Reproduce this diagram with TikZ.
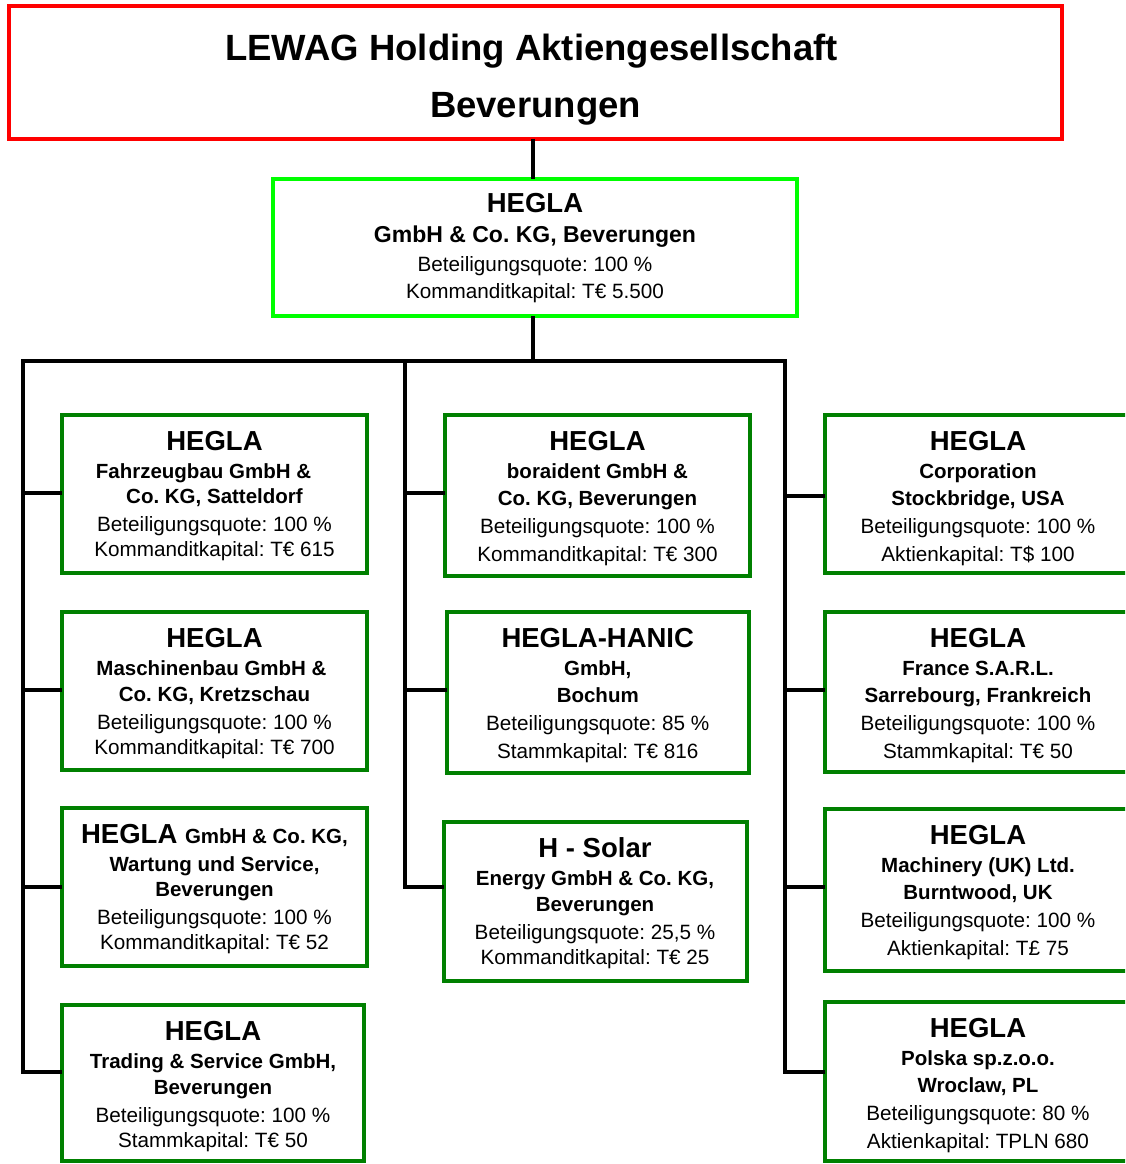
\documentclass[tikz,border=0pt]{standalone}
\usepackage{fontspec}
\setmainfont{Liberation Sans}
\definecolor{dkgreen}{RGB}{0,128,0}
\definecolor{ltgreen}{RGB}{0,255,0}
\newcommand\cbox[5]{\node[subbox, minimum width={#4-#2}, minimum height={#5-#3}] (#1) at ({(#2+#4)/2},{(#3+#5)/2}) {};}
\newcommand\clines[6]{%
  \node[hd] (#1-a) at ([yshift=-\oA]#1.north) {#2};
  \node[sb] (#1-b) at ([yshift=-\oB]#1.north) {#3};
  \node[sb] (#1-c) at ([yshift=-\oC]#1.north) {#4};
  \node[rg] (#1-d) at ([yshift=-\oD]#1.north) {#5};
  \node[rg] (#1-e) at ([yshift=-\oE]#1.north) {#6};}
\newcommand\settight{\def\oA{35.5}\def\oB{63.5}\def\oC{89}\def\oD{117}\def\oE{142}}
\newcommand\setloose{\def\oA{35.5}\def\oB{63.5}\def\oC{90.5}\def\oD{118}\def\oE{146.5}}
\begin{document}
\frenchspacing
\begin{tikzpicture}[x=1pt,y=-1pt,
  holdbox/.style={draw=red, line width=4pt, outer sep=0pt, inner sep=0pt},
  mainbox/.style={draw=ltgreen, line width=4pt, outer sep=0pt, inner sep=0pt},
  subbox/.style={draw=dkgreen, line width=4pt, outer sep=0pt, inner sep=0pt},
  conn/.style={line width=4pt, line join=miter},
  busbar/.style={line width=4pt, line cap=rect},
  ttl/.style={anchor=base, inner sep=0pt, font=\fontsize{36.5}{40}\selectfont\bfseries\frenchspacing},
  hd/.style={anchor=base, inner sep=0pt, font=\fontsize{27.5}{30}\selectfont\bfseries\frenchspacing},
  sb/.style={anchor=base, inner sep=0pt, font=\fontsize{20.5}{24}\selectfont\bfseries\frenchspacing},
  mb/.style={anchor=base, inner sep=0pt, font=\fontsize{23}{26}\selectfont\bfseries\frenchspacing},
  rg/.style={anchor=base, inner sep=0pt, font=\fontsize{20.7}{24}\selectfont\frenchspacing},
]
\useasboundingbox (0,0) rectangle (1125,1164);
\clip (0,0) rectangle (1125,1164);
\fill[white] (0,0) rectangle (1125,1164);

% holding
\node[holdbox, minimum width=1053, minimum height=132.5] (hold) at (535.5,72.25) {};
\node[ttl] (hold-a) at ([yshift=-55,xshift=-4]hold.north) {LEWAG Holding Aktiengesellschaft};
\node[ttl] (hold-b) at ([yshift=-111.3]hold.north) {Beverungen};

% main subsidiary
\node[mainbox, minimum width=524, minimum height=137] (main) at (535,247.5) {};
\node[hd] (main-a) at ([yshift=-33.7]main.north) {HEGLA};
\node[mb] (main-b) at ([yshift=-63.7]main.north) {GmbH \& Co. KG, Beverungen};
\node[rg] (main-c) at ([yshift=-92.7]main.north) {Beteiligungsquote: 100 \%};
\node[rg] (main-d) at ([yshift=-119.3]main.north) {Kommanditkapital: T€ 5.500};

% subsidiaries
\cbox{l1}{62}{414.5}{367}{573}
\cbox{l2}{62}{612}{367}{770}
\cbox{l3}{62}{807.5}{367}{966}
\cbox{l4}{62}{1005}{364}{1161}
\cbox{m1}{445}{415}{750}{575.5}
\cbox{m2}{446.5}{612}{749}{772.5}
\cbox{m3}{443.5}{822}{746.5}{981}
\cbox{r1}{825}{415}{1131}{573}
\cbox{r2}{825}{612}{1131}{772}
\cbox{r3}{825}{809}{1131}{971}
\cbox{r4}{825}{1002}{1131}{1161}

\settight
\clines{l1}{HEGLA}{Fahrzeugbau GmbH \&\kern22pt}{Co. KG, Satteldorf}{Beteiligungsquote: 100 \%}{Kommanditkapital: T€ 615}
\clines{l2}{HEGLA}{Maschinenbau GmbH \&\kern6pt}{Co. KG, Kretzschau}{Beteiligungsquote: 100 \%}{Kommanditkapital: T€ 700}
\clines{l3}{HEGLA {\fontsize{20.5}{24}\selectfont GmbH \& Co. KG,}}{Wartung und Service,}{Beverungen}{Beteiligungsquote: 100 \%}{Kommanditkapital: T€ 52}
\clines{l4}{HEGLA}{Trading \& Service GmbH,}{Beverungen}{Beteiligungsquote: 100 \%}{Stammkapital: T€ 50}
\clines{m3}{H - Solar}{Energy GmbH \& Co. KG,}{Beverungen}{Beteiligungsquote: 25,5 \%}{Kommanditkapital: T€ 25}
\setloose
\clines{m1}{HEGLA}{boraident GmbH \&}{Co. KG, Beverungen}{Beteiligungsquote: 100 \%}{Kommanditkapital: T€ 300}
\clines{m2}{HEGLA-HANIC}{GmbH,}{Bochum}{Beteiligungsquote: 85 \%}{Stammkapital: T€ 816}
\clines{r1}{HEGLA}{Corporation}{Stockbridge, USA}{Beteiligungsquote: 100 \%}{Aktienkapital: T\$ 100}
\clines{r2}{HEGLA}{France S.A.R.L.}{Sarrebourg, Frankreich}{Beteiligungsquote: 100 \%}{Stammkapital: T€ 50}
\clines{r3}{HEGLA}{Machinery (UK) Ltd.}{Burntwood, UK}{Beteiligungsquote: 100 \%}{Aktienkapital: T£ 75}
\clines{r4}{HEGLA}{Polska sp.z.o.o.}{Wroclaw, PL}{Beteiligungsquote: 80 \%}{Aktienkapital: TPLN 680}

% connectors
\coordinate (j0) at (533,361);
\coordinate (bL) at (22.5,361);
\coordinate (bM) at (404.5,361);
\coordinate (bR) at (785,361);
\coordinate (tL1) at (22.5,492.5);
\coordinate (tL2) at (22.5,690);
\coordinate (tL3) at (22.5,887);
\coordinate (tL4) at (22.5,1072);
\coordinate (tM1) at (404.5,493);
\coordinate (tM2) at (404.5,690);
\coordinate (tM3) at (404.5,886.5);
\coordinate (tR1) at (785,496);
\coordinate (tR2) at (785,690);
\coordinate (tR3) at (785,887);
\coordinate (tR4) at (785,1072);

\draw[conn] (hold.south -| j0) -- (main.north -| j0);
\draw[conn] (main.south -| j0) -- (j0);
\draw[busbar] (bL) -- (bR);
\draw[conn] (bL) -- (tL4) -- (tL4 -| l4.west);
\draw[conn] (bM) -- (tM3) -- (tM3 -| m3.west);
\draw[conn] (bR) -- (tR4) -- (tR4 -| r4.west);
\draw[conn] (tL1) -- (tL1 -| l1.west);
\draw[conn] (tL2) -- (tL2 -| l2.west);
\draw[conn] (tL3) -- (tL3 -| l3.west);
\draw[conn] (tM1) -- (tM1 -| m1.west);
\draw[conn] (tM2) -- (tM2 -| m2.west);
\draw[conn] (tR1) -- (tR1 -| r1.west);
\draw[conn] (tR2) -- (tR2 -| r2.west);
\draw[conn] (tR3) -- (tR3 -| r3.west);
\end{tikzpicture}
\end{document}
